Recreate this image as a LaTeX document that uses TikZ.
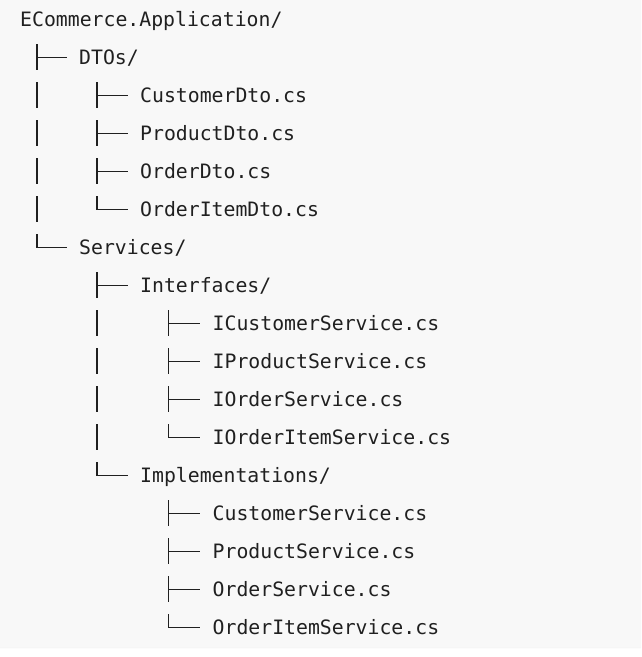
\documentclass[tikz,border=0pt]{standalone}
\usepackage{fontspec}
\newfontfamily\treefont{DejaVu Sans Mono}
\definecolor{ink}{HTML}{202020}
\definecolor{paper}{HTML}{F8F8F8}

\begin{document}
\begin{tikzpicture}
[
    x = 1pt, y = -1pt,
    entry/.style  = {anchor=west,
                     inner sep=0pt,
                     text height=14.5pt,
                     text depth=0pt,
                     text=ink,
                     font=\treefont\fontsize{19.8pt}{22pt}\selectfont},
    bar/.style    = {draw=ink,
                     line width=1.8pt},
    tick/.style   = {draw=ink,
                     line width=1.3pt}
]

\useasboundingbox (0,0) rectangle (641,657);
\clip (0,0) rectangle (641,657);
\filldraw[fill=paper, draw=black!6, rounded corners=5pt] (-10,-10) rectangle (651,648);

\node (root) [entry] at (20,19.5) {ECommerce.Application/};

\node (dtos) [entry] at (79,57.5) {DTOs/};
\node (custdto) [entry] at (140,95.5) {CustomerDto.cs};
\node (proddto) [entry] at (140,133.5) {ProductDto.cs};
\node (orddto) [entry] at (140,171.5) {OrderDto.cs};
\node (itemdto) [entry] at (140,209.5) {OrderItemDto.cs};

\node (services) [entry] at (79,247.5) {Services/};

\node (ifaces) [entry] at (140,285.5) {Interfaces/};
\node (icust) [entry] at (212.5,323.5) {ICustomerService.cs};
\node (iprod) [entry] at (212.5,361.5) {IProductService.cs};
\node (iord) [entry] at (212.5,399.5) {IOrderService.cs};
\node (iitem) [entry] at (212.5,437.5) {IOrderItemService.cs};

\node (impls) [entry] at (140,475.5) {Implementations/};
\node (cust) [entry] at (212.5,513.5) {CustomerService.cs};
\node (prod) [entry] at (212.5,551.5) {ProductService.cs};
\node (ord) [entry] at (212.5,589.5) {OrderService.cs};
\node (item) [entry] at (212.5,627.5) {OrderItemService.cs};

% columns of the tree lines, one per parent
\coordinate (rootcol) at ([xshift=16.7pt]root.west);
\coordinate (dtoscol) at ([xshift=18.3pt]dtos.west);
\coordinate (servcol) at ([xshift=18.3pt]services.west);
\coordinate (ifacol) at ([xshift=28.5pt]ifaces.west);
\coordinate (implcol) at ([xshift=28.5pt]impls.west);

% root
\draw[bar] (dtos.west -| rootcol) ++(0,-13.5) -- ++(0,25.5);
\draw[tick] (dtos.west -| rootcol) -- ([xshift=-12.5pt]dtos.west);
\draw[bar] (custdto.west -| rootcol) ++(0,-13.5) -- ++(0,25.5);
\draw[bar] (proddto.west -| rootcol) ++(0,-13.5) -- ++(0,25.5);
\draw[bar] (orddto.west -| rootcol) ++(0,-13.5) -- ++(0,25.5);
\draw[bar] (itemdto.west -| rootcol) ++(0,-13.5) -- ++(0,25.5);
\draw[bar] (services.west -| rootcol) ++(0,-13.5) -- ++(0,13.5);
\draw[tick] (services.west -| rootcol) -- ([xshift=-12.5pt]services.west);

% DTOs
\draw[bar] (custdto.west -| dtoscol) ++(0,-13.5) -- ++(0,25.5);
\draw[tick] (custdto.west -| dtoscol) -- ([xshift=-12.5pt]custdto.west);
\draw[bar] (proddto.west -| dtoscol) ++(0,-13.5) -- ++(0,25.5);
\draw[tick] (proddto.west -| dtoscol) -- ([xshift=-12.5pt]proddto.west);
\draw[bar] (orddto.west -| dtoscol) ++(0,-13.5) -- ++(0,25.5);
\draw[tick] (orddto.west -| dtoscol) -- ([xshift=-12.5pt]orddto.west);
\draw[bar] (itemdto.west -| dtoscol) ++(0,-13.5) -- ++(0,13.5);
\draw[tick] (itemdto.west -| dtoscol) -- ([xshift=-12.5pt]itemdto.west);

% Services
\draw[bar] (ifaces.west -| servcol) ++(0,-13.5) -- ++(0,25.5);
\draw[tick] (ifaces.west -| servcol) -- ([xshift=-12.5pt]ifaces.west);
\draw[bar] (icust.west -| servcol) ++(0,-13.5) -- ++(0,25.5);
\draw[bar] (iprod.west -| servcol) ++(0,-13.5) -- ++(0,25.5);
\draw[bar] (iord.west -| servcol) ++(0,-13.5) -- ++(0,25.5);
\draw[bar] (iitem.west -| servcol) ++(0,-13.5) -- ++(0,25.5);
\draw[bar] (impls.west -| servcol) ++(0,-13.5) -- ++(0,13.5);
\draw[tick] (impls.west -| servcol) -- ([xshift=-12.5pt]impls.west);

% Interfaces
\draw[bar] (icust.west -| ifacol) ++(0,-13.5) -- ++(0,25.5);
\draw[tick] (icust.west -| ifacol) -- ([xshift=-12.5pt]icust.west);
\draw[bar] (iprod.west -| ifacol) ++(0,-13.5) -- ++(0,25.5);
\draw[tick] (iprod.west -| ifacol) -- ([xshift=-12.5pt]iprod.west);
\draw[bar] (iord.west -| ifacol) ++(0,-13.5) -- ++(0,25.5);
\draw[tick] (iord.west -| ifacol) -- ([xshift=-12.5pt]iord.west);
\draw[bar] (iitem.west -| ifacol) ++(0,-13.5) -- ++(0,13.5);
\draw[tick] (iitem.west -| ifacol) -- ([xshift=-12.5pt]iitem.west);

% Implementations
\draw[bar] (cust.west -| implcol) ++(0,-13.5) -- ++(0,25.5);
\draw[tick] (cust.west -| implcol) -- ([xshift=-12.5pt]cust.west);
\draw[bar] (prod.west -| implcol) ++(0,-13.5) -- ++(0,25.5);
\draw[tick] (prod.west -| implcol) -- ([xshift=-12.5pt]prod.west);
\draw[bar] (ord.west -| implcol) ++(0,-13.5) -- ++(0,25.5);
\draw[tick] (ord.west -| implcol) -- ([xshift=-12.5pt]ord.west);
\draw[bar] (item.west -| implcol) ++(0,-13.5) -- ++(0,13.5);
\draw[tick] (item.west -| implcol) -- ([xshift=-12.5pt]item.west);

\end{tikzpicture}
\end{document}
